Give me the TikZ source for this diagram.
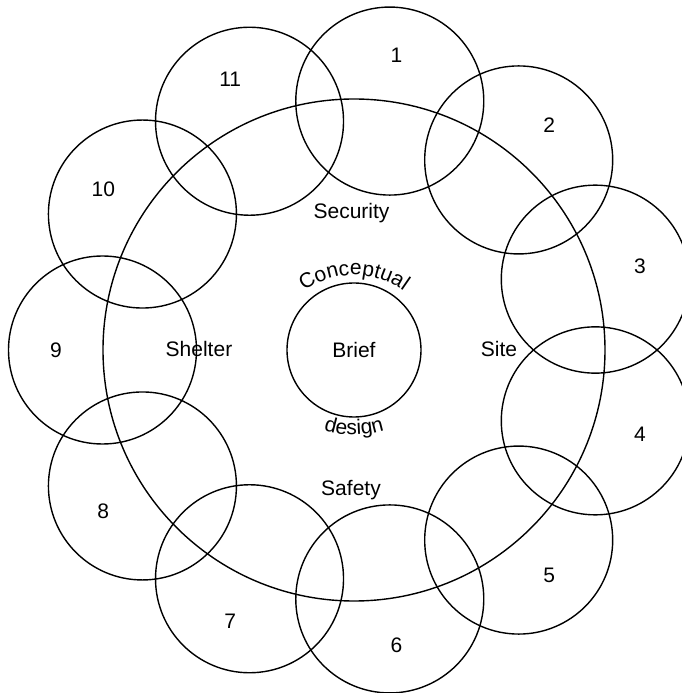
\documentclass[tikz,border=0pt]{standalone}
\usepackage{fontspec}
\setmainfont{Liberation Sans}
\usetikzlibrary{decorations.text}
\newcommand\lblfont{\fontsize{21}{25}\selectfont}
\begin{document}
\begin{tikzpicture}[x=1pt,y=1pt,
  ring/.style={circle, draw, line width=1.4pt, inner sep=0pt},
  petal/.style={ring, minimum size=188pt},
  lbl/.style={font=\lblfont, inner sep=0pt},
]
\clip (-354,-343) rectangle (328,350);
\node[ring, minimum size=502pt] (outer) at (0,0) {};
\node[ring, minimum size=134pt, font=\lblfont] (brief) at (0,0) {Brief};
\foreach \i [evaluate=\i as \a using {81.818-32.7273*(\i-1)}] in {1,...,11} {
  \node[petal] (p\i) at (\a:251.5) {};
  \node[lbl] (n\i) at (\a:298) {\i};
}
\node[lbl, anchor=base] (sec) at (-2.5,131) {Security};
\node[lbl, anchor=base] (saf) at (-3,-145) {Safety};
\node[lbl, anchor=base] (shel) at (-155,-7) {Shelter};
\node[lbl, anchor=base] (site) at (145,-7) {Site};
\path[decorate, decoration={text along path, text align=center, text={|\lblfont|Conceptual}}]
  ([shift={(0,-9)}]145:84) arc[start angle=145, end angle=35, radius=84];
\path[decorate, decoration={text along path, text align=center, text={|\lblfont|design}}]
  ([shift={(0,15)}]225:100) arc[start angle=225, end angle=315, radius=100];
\end{tikzpicture}
\end{document}
